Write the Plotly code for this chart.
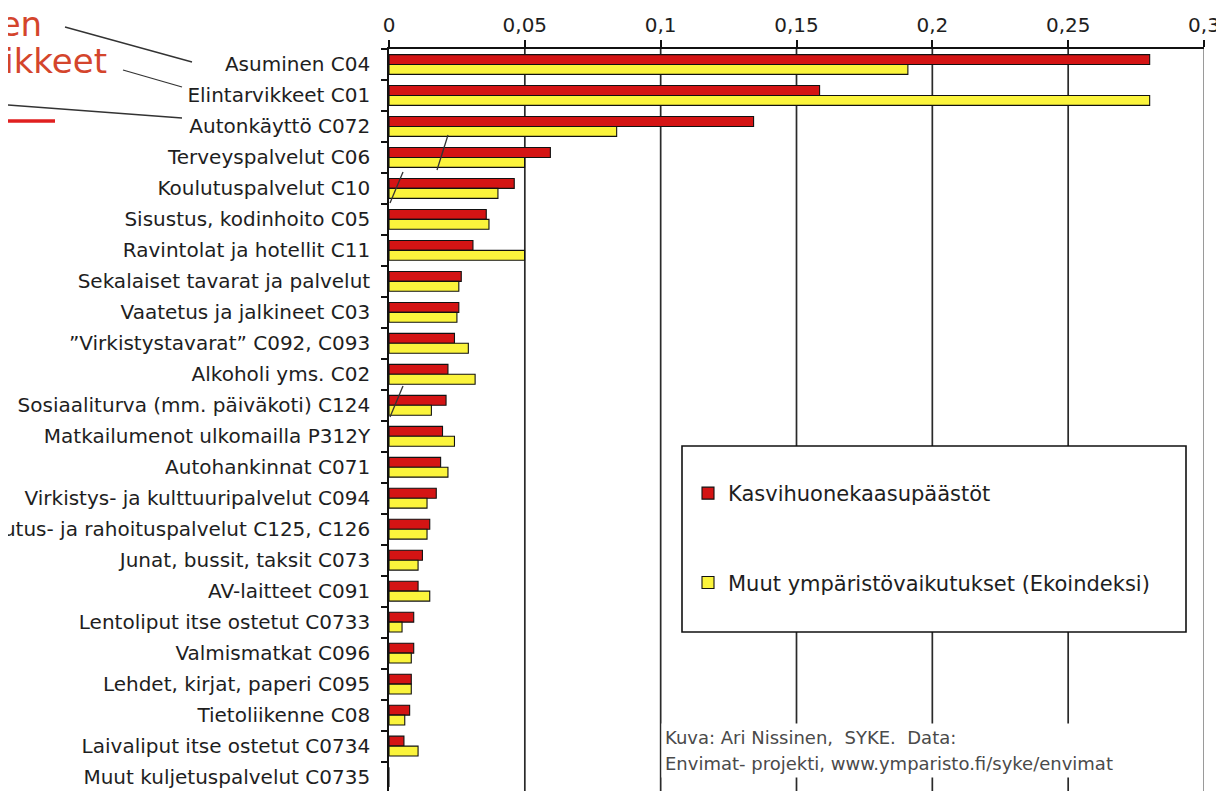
import plotly.graph_objects as go

# ---------------- data ----------------
categories = [
    "Asuminen C04",
    "Elintarvikkeet C01",
    "Autonkäyttö C072",
    "Terveyspalvelut C06",
    "Koulutuspalvelut C10",
    "Sisustus, kodinhoito C05",
    "Ravintolat ja hotellit C11",
    "Sekalaiset tavarat ja palvelut",
    "Vaatetus ja jalkineet C03",
    "”Virkistystavarat” C092, C093",
    "Alkoholi yms. C02",
    "Sosiaaliturva (mm. päiväkoti) C124",
    "Matkailumenot ulkomailla P312Y",
    "Autohankinnat C071",
    "Virkistys- ja kulttuuripalvelut C094",
    "Vakuutus- ja rahoituspalvelut C125, C126",
    "Junat, bussit, taksit C073",
    "AV-laitteet C091",
    "Lentoliput itse ostetut C0733",
    "Valmismatkat C096",
    "Lehdet, kirjat, paperi C095",
    "Tietoliikenne C08",
    "Laivaliput itse ostetut C0734",
    "Muut kuljetuspalvelut C0735",
]
kasvihuone = [0.280, 0.1585, 0.1342, 0.0594, 0.0461, 0.0358, 0.0309, 0.0266,
              0.0257, 0.0241, 0.0217, 0.0210, 0.0197, 0.0190, 0.0174, 0.0150,
              0.0123, 0.0107, 0.0091, 0.0091, 0.0082, 0.0076, 0.0055, 0.0]
ekoindeksi = [0.191, 0.280, 0.0838, 0.0499, 0.0401, 0.0368, 0.0499, 0.0257,
              0.0250, 0.0292, 0.0317, 0.0156, 0.0241, 0.0217, 0.0140, 0.0140,
              0.0107, 0.0150, 0.0048, 0.0082, 0.0082, 0.0058, 0.0107, 0.0]
series_names = ["Kasvihuonekaasupäästöt", "Muut ympäristövaikutukset (Ekoindeksi)"]
tick_values = [0, 0.05, 0.1, 0.15, 0.2, 0.25, 0.3]
tick_labels = ["0", "0,05", "0,1", "0,15", "0,2", "0,25", "0,3"]
credit_lines = ["Kuva: Ari Nissinen,  SYKE.  Data:",
                "Envimat- projekti, www.ymparisto.fi/syke/envimat"]
side_words = ["Asuminen", "Elintarvikkeet"]

# ---------------- layout geometry ----------------
OFF = 8                      # page body margin of the html page
PAGE_W, PAGE_H = 1224, 791
W, H = PAGE_W - OFF, PAGE_H - OFF
ML, MR, MT, MB = 389 - OFF, 20, 49 - OFF, 0
PW, PH = W - ML - MR, H - MT - MB


def px(x):
    """page pixel x -> paper x"""
    return (x - OFF - ML) / PW


def py(y):
    """page pixel y -> paper y"""
    return (H - MB - (y - OFF)) / PH


RED = "#d41414"
YEL = "#fbf43c"
FONT = "DejaVu Sans"

fig = go.Figure()
fig.add_trace(go.Bar(
    y=categories, x=kasvihuone, orientation="h", name=series_names[0],
    marker=dict(color=RED, line=dict(color="#111", width=1.1)),
    legendgroup="a",
))
fig.add_trace(go.Bar(
    y=categories, x=ekoindeksi, orientation="h", name=series_names[1],
    marker=dict(color=YEL, line=dict(color="#111", width=1.1)),
    legendgroup="b",
))

shapes = []
# vertical grid lines
for v in tick_values[1:]:
    last = v == tick_values[-1]
    shapes.append(dict(type="line", xref="x", yref="paper", x0=v, x1=v, y0=0, y1=1,
                       line=dict(color="#9a9a9a" if last else "#2a2a2a",
                                 width=2 if last else 1.7),
                       layer="below"))
# legend box
shapes.append(dict(type="rect", xref="paper", yref="paper",
                   x0=px(682), x1=px(1186), y0=py(632), y1=py(446),
                   fillcolor="white", line=dict(color="#111", width=1.6), layer="above"))
# decorative leader lines
for (x0, y0, x1, y1) in [(448, 135, 437, 170), (403, 172, 390, 203), (403, 386, 390, 417),
                         (65, 27, 192, 62), (123, 70, 182, 87), (8, 105, 182, 118)]:
    shapes.append(dict(type="line", xref="paper", yref="paper",
                       x0=px(x0), y0=py(y0), x1=px(x1), y1=py(y1),
                       line=dict(color="#333", width=1.3), layer="above"))
shapes.append(dict(type="line", xref="paper", yref="paper",
                   x0=px(0), y0=py(121), x1=px(55), y1=py(121),
                   line=dict(color="#e02020", width=3.5), layer="above"))

annotations = [
    dict(xref="paper", yref="paper", x=px(44), y=py(24), xanchor="right", yanchor="middle",
         text=side_words[0], showarrow=False, font=dict(family=FONT, size=34, color="#d4452c")),
    dict(xref="paper", yref="paper", x=px(109), y=py(61), xanchor="right", yanchor="middle",
         text=side_words[1], showarrow=False, font=dict(family=FONT, size=34, color="#d4452c")),
    dict(xref="paper", yref="paper", x=px(661), y=py(750), xanchor="left", yanchor="middle",
         align="left", showarrow=False, bgcolor="white", borderpad=3,
         text="<span style='font-size:18px'>" + credit_lines[0] + "</span><br>"
              "<span style='font-size:18px'>" + credit_lines[1] + "</span>",
         font=dict(family=FONT, size=20, color="#4a4a4a")),
]

fig.update_layout(
    width=W, height=H,
    margin=dict(l=ML, r=MR, t=MT, b=MB, autoexpand=False),
    paper_bgcolor="white", plot_bgcolor="white",
    barmode="group", bargap=0.36, bargroupgap=0,
    font=dict(family=FONT, size=20, color="#1e1e1e"),
    showlegend=True,
    legend=dict(x=px(688), y=py(473), xanchor="left", yanchor="top",
                bgcolor="rgba(0,0,0,0)", borderwidth=0,
                font=dict(family=FONT, size=21, color="#1e1e1e"),
                tracegroupgap=59, traceorder="grouped"),
    shapes=shapes,
    annotations=annotations,
)
fig.update_xaxes(
    side="top", range=[0, 0.3], tickvals=tick_values, ticktext=tick_labels,
    showgrid=False, zeroline=False, showline=True, linecolor="#111", linewidth=1.6,
    ticks="outside", ticklen=7, tickcolor="#111", tickwidth=1.5,
    tickfont=dict(family=FONT, size=20, color="#1e1e1e"),
)
fig.update_yaxes(
    type="category", range=[23.45, -0.5], showgrid=False, zeroline=False,
    showline=True, linecolor="#111", linewidth=1.6,
    ticks="outside", ticklen=6, tickcolor="#111", tickwidth=1.5, tickson="boundaries",
    ticklabelstandoff=13,
    tickfont=dict(family=FONT, size=20, color="#1e1e1e"),
)

fig.write_html("out.html")
